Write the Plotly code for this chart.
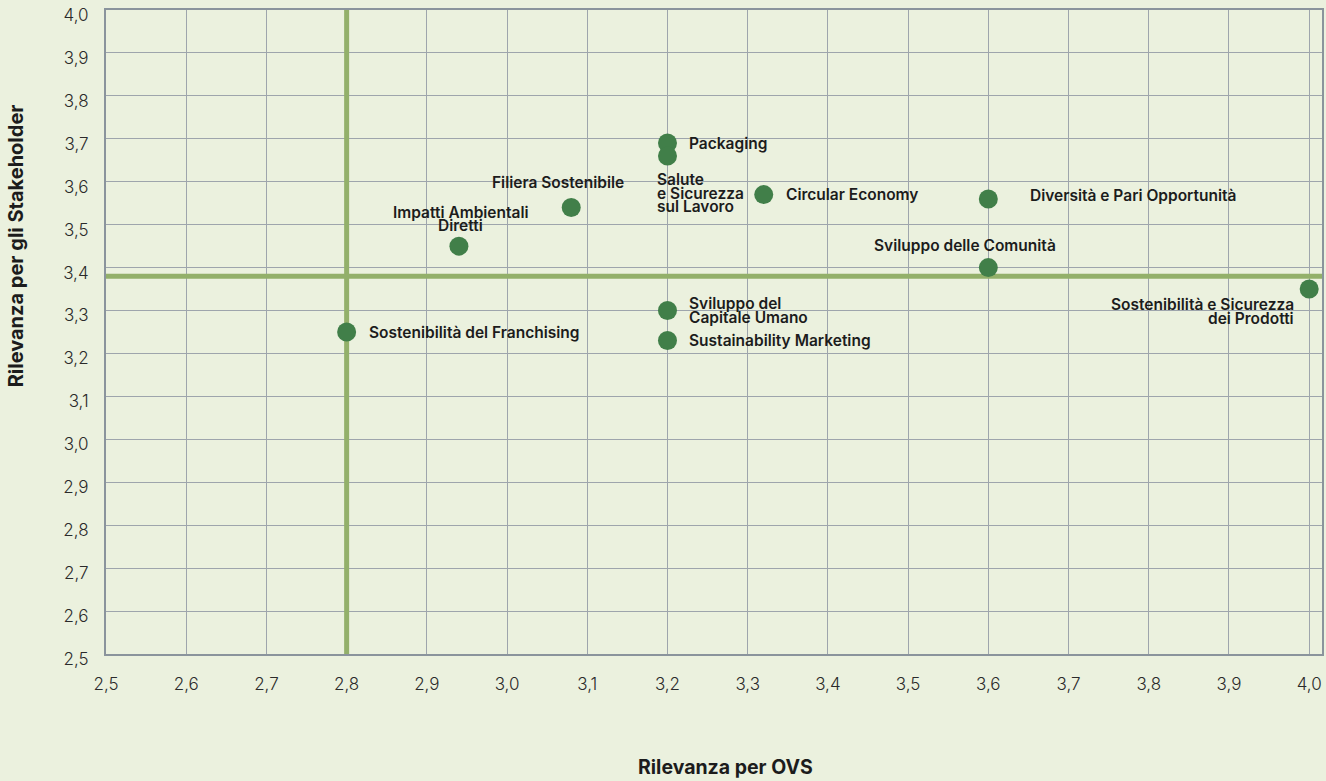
import plotly.graph_objects as go

# ---- data ----
topics = [
    "Packaging",
    "Salute<br>e Sicurezza<br>sul Lavoro",
    "Filiera Sostenibile",
    "Impatti Ambientali<br>Diretti",
    "Circular Economy",
    "Diversità e Pari Opportunità",
    "Sviluppo delle Comunità",
    "Sostenibilità e Sicurezza<br>dei Prodotti",
    "Sviluppo del<br>Capitale Umano",
    "Sustainability Marketing",
    "Sostenibilità del Franchising",
]
rilevanza_ovs = [3.20, 3.20, 3.08, 2.94, 3.32, 3.60, 3.60, 4.00, 3.20, 3.20, 2.80]
rilevanza_stakeholder = [3.69, 3.66, 3.54, 3.45, 3.57, 3.56, 3.40, 3.35, 3.30, 3.23, 3.25]

x_threshold = 2.8
y_threshold = 3.38

tick_values = [2.5, 2.6, 2.7, 2.8, 2.9, 3.0, 3.1, 3.2, 3.3, 3.4, 3.5, 3.6, 3.7, 3.8, 3.9, 4.0]
tick_labels = ["2,5", "2,6", "2,7", "2,8", "2,9", "3,0", "3,1", "3,2", "3,3", "3,4",
               "3,5", "3,6", "3,7", "3,8", "3,9", "4,0"]

# ---- label placement styles (xanchor, xshift px, yshift px of block centre) ----
label_styles = [
    ("left", 21, 0),
    ("left", -11, -37.5),
    ("center", -13, 25),
    ("center", 2, 27),
    ("left", 21, 0),
    ("left", 41, 3),
    ("center", -23, 22),
    ("right", -14, -22.5),
    ("left", 21, 0),
    ("left", 21, 0),
    ("left", 21, 0),
]
LINE_H = 13.5

BG = "#EBF1DE"
GRID = "#9EA5AC"
AXIS = "#8A949C"
GREEN_LINE = "#93B06A"
DOT = "#417F49"
TEXT = "#1C1C1C"
FONT = "Inter"

fig = go.Figure()

# threshold lines
fig.add_trace(go.Scatter(
    x=[x_threshold, x_threshold], y=[2.5, 4.0], mode="lines",
    line=dict(color=GREEN_LINE, width=5), hoverinfo="skip", showlegend=False,
))
fig.add_trace(go.Scatter(
    x=[2.5, 4.016], y=[y_threshold, y_threshold], mode="lines",
    line=dict(color=GREEN_LINE, width=5), hoverinfo="skip", showlegend=False,
))

# points
fig.add_trace(go.Scatter(
    x=rilevanza_ovs, y=rilevanza_stakeholder, mode="markers",
    marker=dict(color=DOT, size=19, line=dict(width=0)),
    text=[t.replace("<br>", " ") for t in topics], hoverinfo="text",
    showlegend=False, cliponaxis=False,
))

for name, xv, yv, (xa, xs, ys) in zip(topics, rilevanza_ovs, rilevanza_stakeholder, label_styles):
    lines = name.split("<br>")
    n = len(lines)
    for i, line in enumerate(lines):
        fig.add_annotation(
            x=xv, y=yv, text=line, showarrow=False,
            xanchor=xa, yanchor="middle", xshift=xs, borderpad=0,
            yshift=ys + (n - 1) / 2 * LINE_H - i * LINE_H,
            font=dict(family=FONT, size=15.5, color=TEXT, weight=600),
        )

# axis titles
fig.add_annotation(
    xref="paper", yref="paper", x=0, y=0.633, xshift=-90,
    text="Rilevanza per gli Stakeholder", textangle=-90, showarrow=False,
    xanchor="center", yanchor="middle",
    font=dict(family=FONT, size=20, color=TEXT, weight=700),
)
fig.add_annotation(
    xref="paper", yref="paper", x=0.5, y=0, xshift=11, yshift=-113,
    text="Rilevanza per OVS", showarrow=False,
    xanchor="center", yanchor="middle",
    font=dict(family=FONT, size=19.5, color=TEXT, weight=700),
)

fig.update_xaxes(
    range=[2.5, 4.016], tickvals=tick_values, ticktext=tick_labels,
    showgrid=True, gridcolor=GRID, gridwidth=1,
    showline=True, linecolor=AXIS, linewidth=2, mirror=True,
    ticks="outside", ticklen=14, tickcolor="rgba(0,0,0,0)",
    tickfont=dict(family=FONT, size=17, color="#2A2A2A", weight=300),
    zeroline=False, automargin=False,
)
fig.update_yaxes(
    range=[2.5, 4.0], tickvals=tick_values, ticktext=tick_labels,
    showgrid=True, gridcolor=GRID, gridwidth=1,
    showline=True, linecolor=AXIS, linewidth=2, mirror=True,
    ticks="outside", ticklen=12, tickcolor="rgba(0,0,0,0)",
    ticklabelshift=5, ticklabeloverflow="allow",
    tickfont=dict(family=FONT, size=17, color="#2A2A2A", weight=300),
    zeroline=False, automargin=False,
)

fig.update_layout(
    width=1326, height=781,
    margin=dict(l=106, r=4, t=10, b=127, autoexpand=False),
    paper_bgcolor=BG, plot_bgcolor=BG,
    showlegend=False,
)

fig.write_html(
    "out.html",
    config={"displayModeBar": False},
    post_script="document.body.style.margin='0';document.body.style.padding='0';"
                "document.body.style.overflow='hidden';",
)
